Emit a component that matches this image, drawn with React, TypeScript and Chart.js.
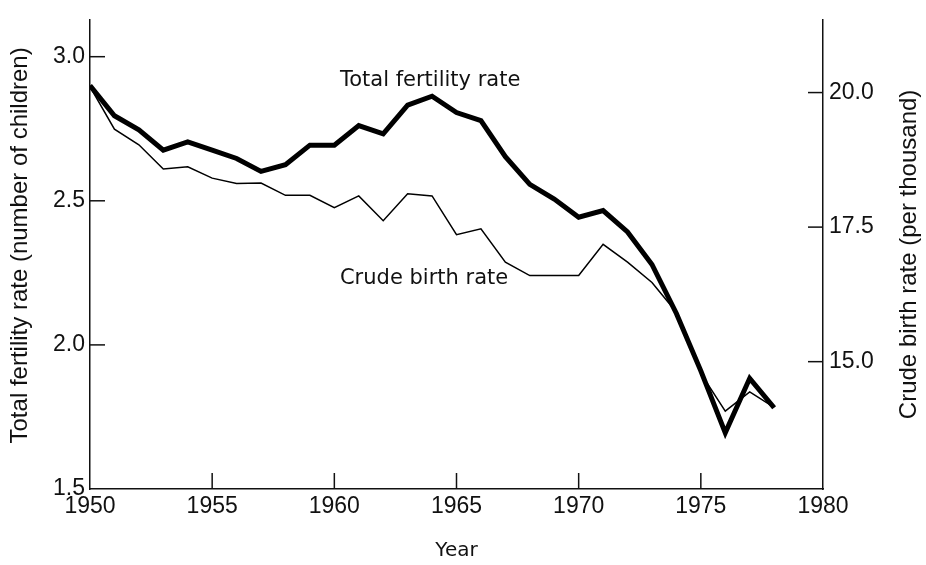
import React, { useEffect, useRef } from "react";
import { Chart, registerables } from "chart.js";

Chart.register(...registerables);

const years = [1950, 1951, 1952, 1953, 1954, 1955, 1956, 1957, 1958, 1959, 1960, 1961, 1962, 1963, 1964, 1965, 1966, 1967, 1968, 1969, 1970, 1971, 1972, 1973, 1974, 1975, 1976, 1977, 1978];
const totalFertility = [2.90, 2.795, 2.746, 2.676, 2.704, 2.676, 2.647, 2.602, 2.625, 2.693, 2.693, 2.761, 2.732, 2.832, 2.863, 2.806, 2.778, 2.653, 2.557, 2.506, 2.443, 2.466, 2.392, 2.279, 2.109, 1.91, 1.695, 1.884, 1.782];
const crudeBirth = [20.11, 19.32, 19.03, 18.58, 18.62, 18.41, 18.31, 18.32, 18.09, 18.09, 17.86, 18.08, 17.62, 18.12, 18.08, 17.36, 17.47, 16.85, 16.60, 16.60, 16.60, 17.18, 16.85, 16.47, 15.92, 14.78, 14.08, 14.44, 14.15];
const xTicks = [1950, 1955, 1960, 1965, 1970, 1975, 1980];
const leftTicks = [1.5, 2.0, 2.5, 3.0];
const rightTicks = [15.0, 17.5, 20.0];
const seriesLabels = [
  { text: "Total fertility rate", year: 1960.23, value: 2.898 },
  { text: "Crude birth rate", year: 1960.23, value: 2.211 },
];
const xTitle = "Year";
const leftTitle = "Total fertility rate (number of children)";
const rightTitle = "Crude birth rate (per thousand)";

const INK = "#111";

const overlay = {
  id: "overlay",
  afterDraw(chart: any) {
    const { ctx, scales, chartArea } = chart;
    const x = scales.x, yL = scales.y, yR = scales.y1;
    ctx.save();
    ctx.strokeStyle = INK;
    ctx.lineWidth = 1.5;
    const seg = (a: number, b: number, c: number, d: number) => {
      ctx.beginPath();
      ctx.moveTo(a, b);
      ctx.lineTo(c, d);
      ctx.stroke();
    };
    xTicks.forEach((v) => {
      if (v === x.min || v === x.max) return;
      const px = x.getPixelForValue(v);
      seg(px, chartArea.bottom, px, chartArea.bottom - 16);
    });
    leftTicks.forEach((v) => {
      if (v === yL.min) return;
      const py = yL.getPixelForValue(v);
      seg(chartArea.left, py, chartArea.left + 15, py);
    });
    rightTicks.forEach((v) => {
      const py = yR.getPixelForValue(v);
      seg(chartArea.right, py, chartArea.right - 15, py);
    });
    // series labels
    ctx.fillStyle = INK;
    ctx.font = '21px "DejaVu Sans"';
    ctx.textAlign = "left";
    ctx.textBaseline = "alphabetic";
    seriesLabels.forEach((l) => {
      ctx.fillText(l.text, x.getPixelForValue(l.year), yL.getPixelForValue(l.value));
    });
    // axis titles (rotated, reading bottom to top)
    ctx.font = '24px "Liberation Sans"';
    ctx.textAlign = "center";
    ctx.textBaseline = "middle";
    ctx.save();
    ctx.translate(20, (chartArea.top + chartArea.bottom) / 2 - 9);
    ctx.rotate(-Math.PI / 2);
    ctx.fillText(leftTitle, 0, 0);
    ctx.restore();
    ctx.save();
    ctx.translate(yR.right - 16.5, (chartArea.top + chartArea.bottom) / 2);
    ctx.rotate(-Math.PI / 2);
    ctx.fillText(rightTitle, 0, 0);
    ctx.restore();
    ctx.restore();
  },
};

export default function App() {
  const ref = useRef<HTMLCanvasElement>(null);
  useEffect(() => {
    if (!ref.current) return;
    const tickFont = { family: '"Liberation Sans", Arial, sans-serif', size: 23 };
    const chart = new Chart(ref.current, {
      type: "line",
      data: {
        datasets: [
          {
            label: "Crude birth rate",
            data: years.map((y, i) => ({ x: y, y: crudeBirth[i] })),
            yAxisID: "y1",
            borderColor: "#000",
            borderWidth: 1.5,
            pointRadius: 0,
            tension: 0,
            fill: false,
          },
          {
            label: "Total fertility rate",
            data: years.map((y, i) => ({ x: y, y: totalFertility[i] })),
            yAxisID: "y",
            borderColor: "#000",
            borderWidth: 5,
            pointRadius: 0,
            tension: 0,
            fill: false,
          },
        ],
      },
      options: {
        animation: false,
        responsive: false,
        maintainAspectRatio: false,
        layout: { padding: { top: 10, left: 0, right: 0, bottom: 0 } },
        plugins: { legend: { display: false }, tooltip: { enabled: false } },
        scales: {
          x: {
            type: "linear",
            min: 1950,
            max: 1980,
            afterFit: (s: any) => { s.height = 76; },
            afterBuildTicks: (s: any) => { s.ticks = xTicks.map((v) => ({ value: v })); },
            grid: { display: false, drawTicks: false },
            border: { display: true, color: INK, width: 1.5 },
            ticks: { color: INK, font: tickFont, padding: 4, maxRotation: 0, callback: (v: any) => String(v) },
            title: { display: true, text: xTitle, color: INK, font: { family: '"DejaVu Sans"', size: 20 }, padding: { top: 0, bottom: 2 } },
          },
          y: {
            type: "linear",
            position: "left",
            min: 1.5,
            max: 3.128,
            afterFit: (s: any) => { s.width = 90; },
            afterBuildTicks: (s: any) => { s.ticks = leftTicks.map((v) => ({ value: v })); },
            grid: { display: false, drawTicks: false },
            border: { display: true, color: INK, width: 1.5 },
            ticks: { color: INK, font: tickFont, padding: 5, callback: (v: any) => Number(v).toFixed(1) },
          },
          y1: {
            type: "linear",
            position: "right",
            min: 12.634,
            max: 21.352,
            afterFit: (s: any) => { s.width = 103; },
            afterBuildTicks: (s: any) => { s.ticks = rightTicks.map((v) => ({ value: v })); },
            grid: { display: false, drawTicks: false },
            border: { display: true, color: INK, width: 1.5 },
            ticks: { color: INK, font: tickFont, padding: 6, callback: (v: any) => Number(v).toFixed(1) },
          },
        },
      },
      plugins: [overlay],
    } as any);
    return () => chart.destroy();
  }, []);
  return (
    <div style={{ position: "absolute", left: 0, top: 0, width: 926, height: 565, background: "#fff" }}>
      <canvas ref={ref} width={926} height={565} style={{ display: "block" }} />
    </div>
  );
}
